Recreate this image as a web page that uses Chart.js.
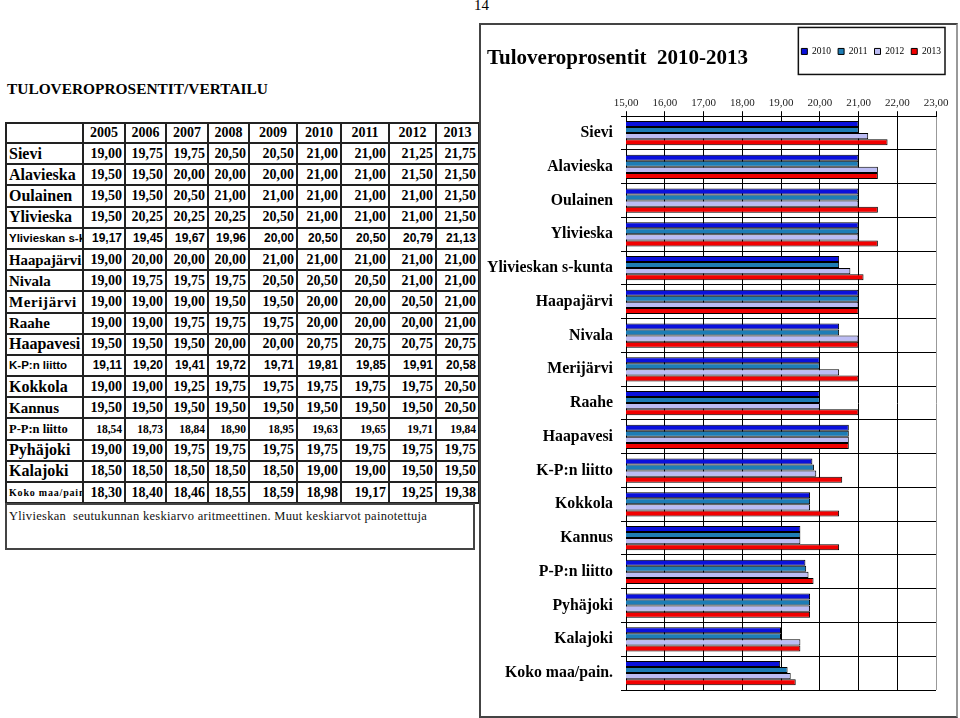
<!DOCTYPE html>
<html lang="fi">
<head>
<meta charset="utf-8">
<title>Tuloveroprosentit</title>
<script src="https://cdn.jsdelivr.net/npm/chart.js@4.4.1/dist/chart.umd.min.js"></script>
<style>
  html, body { margin: 0; padding: 0; background: #fff; }
  body { width: 960px; height: 718px; position: relative; overflow: hidden;
         font-family: "Liberation Serif", "Times New Roman", serif; color: #000; }
  #sivu { position: absolute; left: 474px; top: -3px; font-size: 15px; }
  #otsikko { position: absolute; left: 7px; top: 80px; font-size: 15.4px; font-weight: bold; }
  #taulu { position: absolute; left: 5px; top: 122px; border-collapse: collapse;
           table-layout: fixed; width: 473px; }
  #taulu td { border: 2px solid #222; padding: 0 2px 0 0; white-space: nowrap; overflow: hidden;
              text-align: right; font-weight: bold; font-size: 14px; line-height: 16px; }
  #taulu tr { height: 21.2px; }
  #taulu tr.otsake { height: 20px; }
  #taulu tr.otsake td { text-align: center; padding: 0; }
  #taulu td.n { text-align: left; padding: 0 0 0 2px; font-size: 16px; }
  #taulu tr.k15 td.n { font-size: 15px; }
  #taulu tr.ls td.n { letter-spacing: 0.6px; font-size: 15px; }
  #taulu tr.hj td.n { font-size: 14.8px; }
  #taulu tr.sans td { font-family: "Liberation Sans", Arial, sans-serif; font-size: 12px; }
  #taulu tr.sans td.n { font-size: 11.5px; }
  #taulu tr.pp td { font-size: 11.5px; }
  #taulu tr.pp td.n { font-size: 12.5px; }
  #taulu tr.koko td.n { font-size: 10px; letter-spacing: 0.8px; }
  #huom { position: absolute; left: 5px; top: 503px; width: 464px; height: 43px;
          border: 2px solid #444; font-size: 12.5px; letter-spacing: 0.3px; padding: 0 0 0 2px;
          line-height: 22px; color: #111; }
  #kehys { position: absolute; left: 479px; top: 23px; width: 475px; height: 691px;
           border: 2px solid #444; border-right-color: #999; }
  #kuvio { position: absolute; left: 480px; top: 24px; }
</style>
</head>
<body>
<div id="sivu">14</div>
<div id="otsikko">TULOVEROPROSENTIT/VERTAILU</div>
<table id="taulu">
  <colgroup>
    <col style="width:77px"><col style="width:42px"><col style="width:41px"><col style="width:42px">
    <col style="width:41px"><col style="width:48px"><col style="width:44px"><col style="width:48px">
    <col style="width:47px"><col style="width:43px">
  </colgroup>
  <tbody id="rivit"></tbody>
</table>
<div id="huom">Ylivieskan&nbsp; seutukunnan keskiarvo aritmeettinen. Muut keskiarvot painotettuja</div>
<div id="kehys"></div>
<canvas id="kuvio" width="478" height="693"></canvas>

<script>
// kunnat / alueet
const kunnat = ['Sievi', 'Alavieska', 'Oulainen', 'Ylivieska', 'Ylivieskan s-kunta', 'Haapajärvi',
  'Nivala', 'Merijärvi', 'Raahe', 'Haapavesi', 'K-P:n liitto', 'Kokkola', 'Kannus',
  'P-P:n liitto', 'Pyhäjoki', 'Kalajoki', 'Koko maa/pain.'];
const vuodet = ['2005', '2006', '2007', '2008', '2009', '2010', '2011', '2012', '2013'];

// tuloveroprosentit vuosittain
const v2005 = [19.00, 19.50, 19.50, 19.50, 19.17, 19.00, 19.00, 19.00, 19.00, 19.50, 19.11, 19.00, 19.50, 18.54, 19.00, 18.50, 18.30];
const v2006 = [19.75, 19.50, 19.50, 20.25, 19.45, 20.00, 19.75, 19.00, 19.00, 19.50, 19.20, 19.00, 19.50, 18.73, 19.00, 18.50, 18.40];
const v2007 = [19.75, 20.00, 20.50, 20.25, 19.67, 20.00, 19.75, 19.00, 19.75, 19.50, 19.41, 19.25, 19.50, 18.84, 19.75, 18.50, 18.46];
const v2008 = [20.50, 20.00, 21.00, 20.25, 19.96, 20.00, 19.75, 19.50, 19.75, 20.00, 19.72, 19.75, 19.50, 18.90, 19.75, 18.50, 18.55];
const v2009 = [20.50, 20.00, 21.00, 20.50, 20.00, 21.00, 20.50, 19.50, 19.75, 20.00, 19.71, 19.75, 19.50, 18.95, 19.75, 18.50, 18.59];
const v2010 = [21.00, 21.00, 21.00, 21.00, 20.50, 21.00, 20.50, 20.00, 20.00, 20.75, 19.81, 19.75, 19.50, 19.63, 19.75, 19.00, 18.98];
const v2011 = [21.00, 21.00, 21.00, 21.00, 20.50, 21.00, 20.50, 20.00, 20.00, 20.75, 19.85, 19.75, 19.50, 19.65, 19.75, 19.00, 19.17];
const v2012 = [21.25, 21.50, 21.00, 21.00, 20.79, 21.00, 21.00, 20.50, 20.00, 20.75, 19.91, 19.75, 19.50, 19.71, 19.75, 19.50, 19.25];
const v2013 = [21.75, 21.50, 21.50, 21.50, 21.13, 21.00, 21.00, 21.00, 21.00, 20.75, 20.58, 20.50, 20.50, 19.84, 19.75, 19.50, 19.38];

// rivikohtainen ulkoasu taulukossa
const riviTyyli = ['', '', '', '', 'sans', 'hj', 'k15', 'ls', 'k15', '', 'sans', '', 'k15', 'pp', '', '', 'koko'];

const pilkku = v => v.toFixed(2).replace('.', ',');

// taulukko
const sarakkeet = [v2005, v2006, v2007, v2008, v2009, v2010, v2011, v2012, v2013];
const tbody = document.getElementById('rivit');
let html = '<tr class="otsake"><td></td>' + vuodet.map(v => '<td>' + v + '</td>').join('') + '</tr>';
kunnat.forEach((k, i) => {
  html += '<tr class="' + riviTyyli[i] + '"><td class="n">' + k + '</td>' +
    sarakkeet.map(s => '<td>' + pilkku(s[i]) + '</td>').join('') + '</tr>';
});
tbody.innerHTML = html;

// legendan kehys
const legendaKehys = {
  id: 'legendaKehys',
  afterLayout(chart) {
    chart.legend.right = chart.width - 10;
  },
  afterDraw(chart) {
    const boxes = chart.legend.legendHitBoxes;
    if (!boxes || !boxes.length) return;
    const eka = boxes[0], vika = boxes[boxes.length - 1];
    const keski = eka.top + eka.height / 2;
    const ctx = chart.ctx;
    ctx.save();
    ctx.strokeStyle = '#111';
    ctx.lineWidth = 1.5;
    ctx.strokeRect(eka.left - 3, keski - 24, vika.left + vika.width - eka.left + 7, 47);
    ctx.restore();
  }
};

const ctx = document.getElementById('kuvio').getContext('2d');
new Chart(ctx, {
  type: 'bar',
  data: {
    labels: kunnat,
    datasets: [
      { label: '2010', data: v2010, backgroundColor: '#0A10DC' },
      { label: '2011', data: v2011, backgroundColor: '#1E7DB6' },
      { label: '2012', data: v2012, backgroundColor: '#BCBCF4' },
      { label: '2013', data: v2013, backgroundColor: '#F20000' }
    ]
  },
  options: {
    responsive: false,
    animation: false,
    indexAxis: 'y',
    layout: { padding: { left: 7, right: 22, top: 15.5, bottom: 27 } },
    datasets: {
      bar: { categoryPercentage: 0.72, barPercentage: 1, borderColor: '#000', borderWidth: 1, borderSkipped: false }
    },
    scales: {
      x: {
        position: 'top',
        min: 15,
        max: 23,
        ticks: {
          stepSize: 1,
          padding: 1,
          color: '#222',
          font: { family: 'Liberation Serif', size: 11 },
          callback: v => pilkku(v)
        },
        grid: {
          color: c => (c.tick && c.tick.value === 23) ? '#999' : '#000',
          tickColor: '#000',
          tickLength: 5
        },
        border: { color: '#000' },
        afterFit: s => { s.height = 50; }
      },
      y: {
        ticks: {
          padding: 8,
          color: '#000',
          font: { family: 'Liberation Serif', size: 15.8, weight: 'bold' }
        },
        grid: { color: '#000', tickLength: 5, offset: true },
        border: { color: '#000' },
        afterFit: s => { s.width = 139; }
      }
    },
    plugins: {
      title: {
        display: true,
        text: 'Tuloveroprosentit  2010-2013',
        align: 'start',
        color: '#000',
        font: { family: 'Liberation Serif', size: 21, weight: 'bold' },
        padding: { top: 6.5, bottom: -31.5 }
      },
      legend: {
        position: 'top',
        align: 'end',
        labels: {
          boxWidth: 6,
          boxHeight: 6,
          padding: 7,
          color: '#000',
          font: { family: 'Liberation Serif', size: 9.5 }
        }
      },
      tooltip: { enabled: false }
    }
  },
  plugins: [legendaKehys]
});
</script>
</body>
</html>
